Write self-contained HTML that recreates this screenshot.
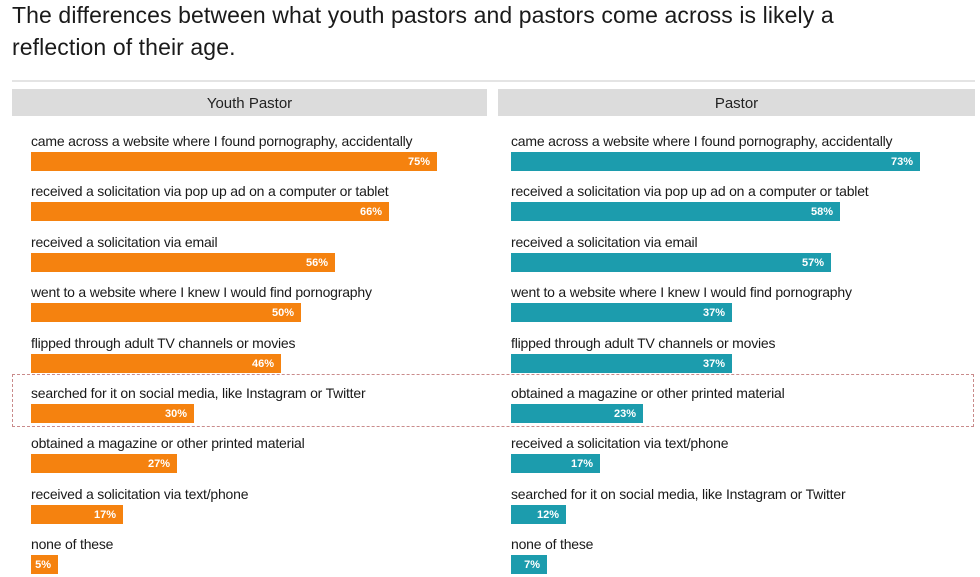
<!DOCTYPE html>
<html><head><meta charset="utf-8"><style>
body{margin:0;width:980px;height:577px;background:#fff;position:relative;overflow:hidden;font-family:"Liberation Sans",sans-serif;color:#222}
.t{position:absolute;left:12px;font-size:23px;color:#1a1a1a;letter-spacing:0.1px}
.h{position:absolute;top:89px;height:27px;background:#dcdcdc;font-size:15px;line-height:29px;text-align:center;color:#222}
.l{position:absolute;font-size:14px;white-space:nowrap;color:#1a1a1a;letter-spacing:-0.2px}
.b{position:absolute;height:19px;color:#fff;font-weight:bold;font-size:11px;line-height:21px;text-align:right;box-sizing:border-box;padding-right:7px}
.o{background:#f5820f}.c{background:#1c9cad}
</style></head><body>
<div class="t" style="top:2px">The differences between what youth pastors and pastors come across is likely a</div>
<div class="t" style="top:34px">reflection of their age.</div>
<div style="position:absolute;left:12px;top:80px;width:963px;height:2px;background:#e4e4e4"></div>
<div class="h" style="left:12px;width:475px">Youth Pastor</div>
<div class="h" style="left:498px;width:477px">Pastor</div>
<div style="position:absolute;left:12px;top:374px;width:962px;height:53px;border:1.5px dashed #c98b8b;box-sizing:border-box"></div>
<div id="g"></div>
<script>
var L=[["came across a website where I found pornography, accidentally",75,437],["received a solicitation via pop up ad on a computer or tablet",66,389],["received a solicitation via email",56,335],["went to a website where I knew I would find pornography",50,301],["flipped through adult TV channels or movies",46,281],["searched for it on social media, like Instagram or Twitter",30,194],["obtained a magazine or other printed material",27,177],["received a solicitation via text/phone",17,123],["none of these",5,58]];
var R=[["came across a website where I found pornography, accidentally",73,920],["received a solicitation via pop up ad on a computer or tablet",58,840],["received a solicitation via email",57,831],["went to a website where I knew I would find pornography",37,732],["flipped through adult TV channels or movies",37,732],["obtained a magazine or other printed material",23,643],["received a solicitation via text/phone",17,600],["searched for it on social media, like Instagram or Twitter",12,566],["none of these",7,547]];
var h="";
function f(a,x0,cl){a.forEach(function(r,i){var y=133+i*50.4;h+='<div class="l" style="left:'+x0+'px;top:'+y+'px">'+r[0]+'</div>';h+='<div class="b '+cl+'" style="left:'+x0+'px;top:'+(y+19)+'px;width:'+(r[2]-x0)+'px">'+r[1]+'%</div>';});}
f(L,31,"o");f(R,511,"c");
document.getElementById("g").innerHTML=h;
</script>
</body></html>
